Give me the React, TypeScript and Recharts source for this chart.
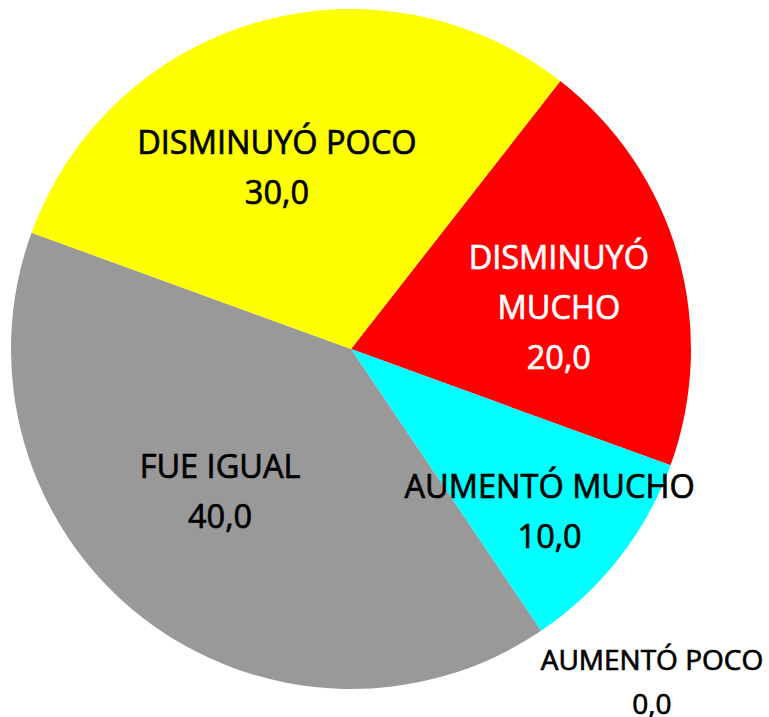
import React from 'react';
import { PieChart, Pie, Cell } from 'recharts';

const categories = ['DISMINUYÓ MUCHO', 'AUMENTÓ MUCHO', 'AUMENTÓ POCO', 'FUE IGUAL', 'DISMINUYÓ POCO'];
const labelLines = [['DISMINUYÓ', 'MUCHO'], ['AUMENTÓ MUCHO'], ['AUMENTÓ POCO'], ['FUE IGUAL'], ['DISMINUYÓ POCO']];
const values = [20, 10, 0, 40, 30];

const colors = ['#FF0000', '#00FFFF', '#00FFFF', '#999999', '#FFFF00'];
const textColors = ['#FFFFFF', '#000000', '#000000', '#000000', '#000000'];
// label placement: radius and angle nudge (degrees) from the slice's mid angle
const labelRadius = [210, 264, 456, 202, 185];
const labelAngleNudge = [-7.8, -3.2, 7.3, -2.4, 7.6];
const labelFontSize = [32.5, 32.5, 28, 32.5, 32.5];
const labelLineHeight = [50, 50, 44, 50, 50];

const data = categories.map((name, i) => ({ name, value: values[i] }));

const FONT = '"Open Sans", "Noto Sans", sans-serif';
const RAD = Math.PI / 180;

const renderLabel = (props: any) => {
  const { cx, cy, midAngle, index, value } = props;
  const ang = (midAngle + labelAngleNudge[index]) * RAD;
  const x = cx + labelRadius[index] * Math.cos(ang);
  const y = cy - labelRadius[index] * Math.sin(ang);
  const lh = labelLineHeight[index];
  const lines = [...labelLines[index], Number(value).toFixed(1).replace('.', ',')];
  const first = y - ((lines.length - 1) * lh) / 2;
  return (
    <text
      key={`lbl-${index}`}
      x={x}
      y={first}
      textAnchor="middle"
      fill={textColors[index]}
      stroke={textColors[index]}
      strokeWidth={0.7}
      fontFamily={FONT}
      fontSize={labelFontSize[index]}
    >
      {lines.map((ln, k) => (
        <tspan key={k} x={x} y={first + k * lh}>
          {ln}
        </tspan>
      ))}
    </text>
  );
};

export default function App() {
  return (
    <div style={{ position: 'absolute', left: 0, top: 0 }}>
      <PieChart width={769} height={717} margin={{ top: 0, right: 0, bottom: 0, left: 0 }}>
        <Pie
          data={data}
          dataKey="value"
          nameKey="name"
          cx={351}
          cy={349}
          outerRadius={340}
          startAngle={52}
          endAngle={-308}
          stroke="none"
          isAnimationActive={false}
          labelLine={false}
          label={renderLabel}
        >
          {data.map((d, i) => (
            <Cell key={d.name} fill={colors[i]} />
          ))}
        </Pie>
      </PieChart>
    </div>
  );
}
